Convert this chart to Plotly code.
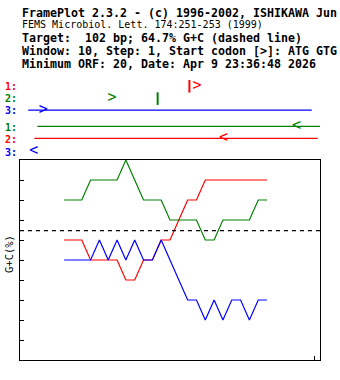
import plotly.graph_objects as go

# ---- sequence / analysis parameters ----
seq_length = 102
target_gc = 64.7

# window centres (bp) and GC content of the 3rd codon position in each frame
window_pos = [15, 18, 21, 24, 27, 30, 33, 36, 39, 42, 45, 48,
              51, 54, 57, 60, 63, 66, 69, 72, 75, 78, 81, 84]
gc_frame1 = [60, 60, 60, 50, 50, 50, 50, 40, 40, 50, 50, 60,
             60, 70, 80, 80, 90, 90, 90, 90, 90, 90, 90, 90]
gc_frame2 = [80, 80, 80, 90, 90, 90, 90, 100, 90, 80, 80, 80,
             70, 70, 70, 70, 60, 60, 70, 70, 70, 70, 80, 80]
gc_frame3 = [50, 50, 50, 50, 60, 50, 60, 50, 60, 50, 50, 60,
             50, 40, 30, 30, 20, 30, 20, 30, 30, 20, 30, 30]

# ---- ORF map (bp positions) ----
fwd_starts = {1: [60.2], 2: [31.3], 3: [7.9]}
fwd_stops = {1: [57.6], 2: [46.8], 3: []}
fwd_orfs = {1: [], 2: [], 3: [(2.8, 99.2)]}
rev_starts = {1: [94.0], 2: [69.2], 3: [4.7]}
rev_orfs = {1: [(5.9, 102.2)], 2: [(4.9, 101.2)], 3: []}

header_lines = [
    "FramePlot 2.3.2 - (c) 1996-2002, ISHIKAWA Jun",
    "FEMS Microbiol. Lett. 174:251-253 (1999)",
    "Target: \u00a0102 bp; 64.7% G+C (dashed line)",
    "Window: 10, Step: 1, Start codon [>]: ATG GTG",
    "Minimum ORF: 20, Date: Apr 9 23:36:48 2026",
]

RED, GREEN, BLUE = "#FF0000", "#008000", "#0000FF"
fwd_colors = {1: RED, 2: GREEN, 3: BLUE}
rev_colors = {1: GREEN, 2: RED, 3: BLUE}

W, H = 340, 380
ML, MR, MT, MB = 20, 20, 0, 20
PH = H - MT - MB          # plot-area height in px
PW = W - ML - MR


def py(p):
    """page pixel row -> paper y"""
    return (H - MB - p) / PH


def px(p):
    """page pixel column -> paper x"""
    return (p - ML) / PW


MONO = "DejaVu Sans Mono"
BOLD = dict(family=MONO, size=11.63, color="black", weight="bold")

# rows of the ORF map, expressed in page pixels on yaxis2
fwd_rows = {1: 86.3, 2: 98.6, 3: 110.2}
rev_rows = {1: 126.3, 2: 138.3, 3: 151.0}

fig = go.Figure()

# --- GC content curves ---
for vals, col in ((gc_frame1, RED), (gc_frame2, GREEN), (gc_frame3, BLUE)):
    fig.add_trace(go.Scatter(x=window_pos, y=vals, mode="lines",
                             line=dict(color=col, width=1.2),
                             hoverinfo="skip", showlegend=False))

# target GC (dashed)
fig.add_trace(go.Scatter(x=[0, seq_length], y=[target_gc, target_gc], mode="lines",
                         line=dict(color="black", width=1.2, dash="4px,4px"),
                         hoverinfo="skip", showlegend=False))


# --- ORF map ---
def add_orf_row(row_y, color, orfs, starts, start_glyph, stops):
    for a, b in orfs:
        fig.add_trace(go.Scatter(x=[a, b], y=[row_y, row_y], mode="lines",
                                 line=dict(color=color, width=1.2),
                                 xaxis="x2", yaxis="y2", cliponaxis=False,
                                 hoverinfo="skip", showlegend=False))
    if starts:
        fig.add_trace(go.Scatter(x=starts, y=[row_y] * len(starts), mode="text",
                                 text=[start_glyph] * len(starts),
                                 textfont=dict(family=MONO, size=15, color=color),
                                 textposition="middle center",
                                 xaxis="x2", yaxis="y2", cliponaxis=False,
                                 hoverinfo="skip", showlegend=False))
    if stops:
        fig.add_trace(go.Scatter(x=stops, y=[row_y] * len(stops), mode="markers",
                                 marker=dict(symbol="line-ns", size=9,
                                             line=dict(color=color, width=2)),
                                 xaxis="x2", yaxis="y2", cliponaxis=False,
                                 hoverinfo="skip", showlegend=False))


for f in (1, 2, 3):
    add_orf_row(fwd_rows[f], fwd_colors[f], fwd_orfs[f], fwd_starts[f], ">", fwd_stops[f])
for f in (1, 2, 3):
    add_orf_row(rev_rows[f], rev_colors[f], rev_orfs[f], rev_starts[f], "<", [])

annotations = []
# header text
header_y = [13.0, 25.0, 38.0, 51.3, 63.8]
for i, (txt, yy) in enumerate(zip(header_lines, header_y)):
    font = BOLD if i != 1 else dict(family=MONO, size=10, color="black")
    annotations.append(dict(text=txt, x=px(20), y=py(yy), xref="paper", yref="paper",
                            xanchor="left", yanchor="middle", showarrow=False, font=font))

# frame labels
LABEL = dict(family=MONO, size=10, weight="bold")
for f in (1, 2, 3):
    annotations.append(dict(text=f"{f}:", x=px(2.5), y=py(fwd_rows[f]), xref="paper", yref="paper",
                            xanchor="left", yanchor="middle", showarrow=False,
                            font=dict(LABEL, color=fwd_colors[f])))
    annotations.append(dict(text=f"{f}:", x=px(2.5), y=py(rev_rows[f] + 1), xref="paper", yref="paper",
                            xanchor="left", yanchor="middle", showarrow=False,
                            font=dict(LABEL, color=rev_colors[f])))

# y axis label
annotations.append(dict(text="G+C(%)", x=px(9), y=py(254), xref="paper", yref="paper",
                        xanchor="center", yanchor="middle", textangle=-90, showarrow=False,
                        font=dict(family=MONO, size=10.5, color="black")))

main_top = (H - MB - 160) / PH
fig.update_layout(
    width=W, height=H,
    margin=dict(l=ML, r=MR, t=MT, b=MB, pad=0),
    paper_bgcolor="white", plot_bgcolor="white",
    showlegend=False,
    xaxis=dict(range=[0, seq_length], showgrid=False, zeroline=False,
               showline=True, linecolor="black", linewidth=1.2, mirror=True,
               ticks="inside", tickcolor="black", ticklen=4, tickwidth=1,
               tick0=0, dtick=100, showticklabels=False, anchor="y"),
    yaxis=dict(range=[0, 100], domain=[0, main_top], showgrid=False, zeroline=False,
               showline=True, linecolor="black", linewidth=1.2, mirror=True,
               ticks="inside", tickcolor="black", ticklen=4, tickwidth=1,
               tick0=0, dtick=10, showticklabels=False, anchor="x"),
    xaxis2=dict(range=[0, seq_length], domain=[0, 1], visible=False, anchor="y2"),
    yaxis2=dict(range=[160, 80], domain=[main_top, py(80)], visible=False, anchor="x2"),
    annotations=annotations,
)

fig.write_html("out.html")
